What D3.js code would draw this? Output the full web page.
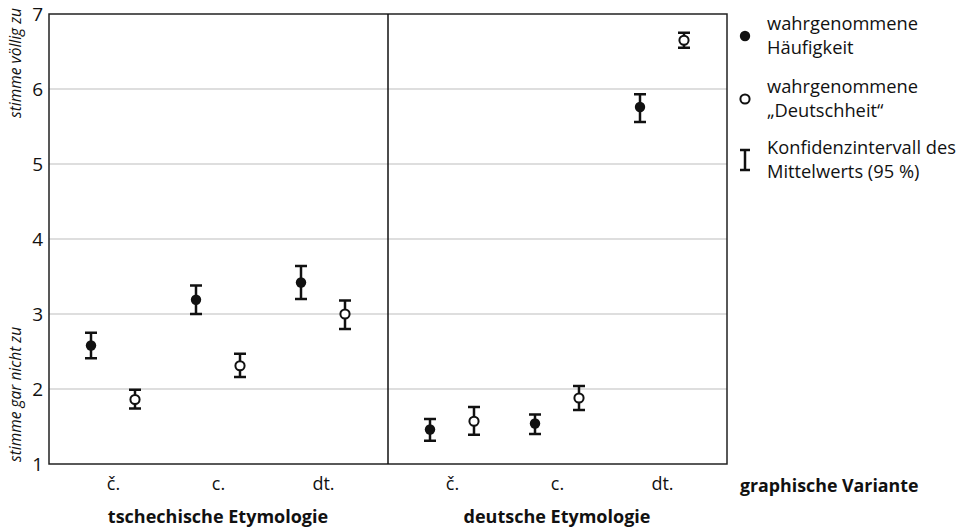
<!DOCTYPE html>
<html>
<head>
<meta charset="utf-8">
<script src="https://cdn.jsdelivr.net/npm/d3@7"></script>
<style>
  body { margin: 0; background: #fff; }
  text { font-family: "Open Sans", "Noto Sans", sans-serif; fill: #111; }
</style>
</head>
<body>
<div id="chart"></div>
<script>
// Gruppen und Varianten
const groups = ["tschechische Etymologie", "deutsche Etymologie"];
const variants = ["č.", "c.", "dt."];
const yTicks = [1, 2, 3, 4, 5, 6, 7];

// wahrgenommene Häufigkeit (gefüllt): Mittelwert, unten, oben
const freqMean = [[2.58, 3.19, 3.42], [1.46, 1.54, 5.76]];
const freqLow  = [[2.41, 3.00, 3.20], [1.31, 1.40, 5.56]];
const freqHigh = [[2.75, 3.38, 3.64], [1.60, 1.66, 5.93]];

// wahrgenommene „Deutschheit“ (offen)
const germMean = [[1.86, 2.31, 3.00], [1.57, 1.88, 6.65]];
const germLow  = [[1.74, 2.16, 2.80], [1.39, 1.72, 6.55]];
const germHigh = [[1.99, 2.47, 3.18], [1.76, 2.04, 6.75]];

const legendItems = [
    { type: "filled", lines: ["wahrgenommene", "Häufigkeit"] },
    { type: "open", lines: ["wahrgenommene", "„Deutschheit“"] },
    { type: "ci", lines: ["Konfidenzintervall des", "Mittelwerts (95 %)"] }
];

const W = 967, H = 527;
const margin = { top: 14, left: 49, right: 240, bottom: 63 };
const plotW = W - margin.left - margin.right;
const plotH = H - margin.top - margin.bottom;

const svg = d3.select("#chart").append("svg")
    .attr("width", W)
    .attr("height", H);

const g = svg.append("g")
    .attr("transform", `translate(${margin.left},${margin.top})`);

// Skalen
const y = d3.scaleLinear().domain([1, 7]).range([plotH, 0]);
const xGroup = d3.scaleBand().domain(groups).range([0, plotW]);
const xVar = d3.scalePoint().domain(variants).range([64, 274]);
const pairOffset = 22;

// Gitterlinien
g.selectAll(".grid")
    .data(yTicks.slice(1, -1))
    .enter()
    .append("line")
    .attr("class", "grid")
    .attr("x1", 0)
    .attr("x2", plotW)
    .attr("y1", d => y(d))
    .attr("y2", d => y(d))
    .attr("stroke", "#bdbdbd")
    .attr("stroke-width", 1.2);

// Rahmen
g.append("rect")
    .attr("x", 0)
    .attr("y", 0)
    .attr("width", plotW)
    .attr("height", plotH)
    .attr("fill", "none")
    .attr("stroke", "#222")
    .attr("stroke-width", 1.5);

// Trennlinie
g.append("line")
    .attr("x1", xGroup(groups[1]))
    .attr("x2", xGroup(groups[1]))
    .attr("y1", 0)
    .attr("y2", plotH)
    .attr("stroke", "#111")
    .attr("stroke-width", 1.5);

// y-Achse
g.append("g")
    .call(d3.axisLeft(y).tickValues(yTicks).tickSize(0).tickPadding(6).tickFormat(d3.format("d")))
    .call(a => a.select(".domain").remove())
    .selectAll("text")
    .style("font-size", "19px");

// y-Achsenbeschriftungen (kursiv)
g.append("text")
    .attr("transform", `translate(-28,-6) rotate(-90)`)
    .attr("text-anchor", "end")
    .style("font-style", "italic")
    .style("font-size", "15.5px")
    .text("stimme völlig zu");

g.append("text")
    .attr("transform", `translate(-28,${plotH - 2}) rotate(-90)`)
    .attr("text-anchor", "start")
    .style("font-style", "italic")
    .style("font-size", "15.5px")
    .text("stimme gar nicht zu");

// x-Achse pro Gruppe
groups.forEach((grp, gi) => {
    const gx = g.append("g")
        .attr("transform", `translate(${xGroup(grp)},${plotH})`);
    gx.call(d3.axisBottom(xVar).tickSize(0).tickPadding(13))
        .call(a => a.select(".domain").remove())
        .selectAll("text")
        .style("font-size", "18px");

    gx.append("text")
        .attr("x", xVar.range()[0] + (xVar.range()[1] - xVar.range()[0]) / 2)
        .attr("y", 59)
        .attr("text-anchor", "middle")
        .style("font-size", "18px")
        .style("font-weight", "bold")
        .text(grp);
});

g.append("text")
    .attr("x", plotW + 13)
    .attr("y", plotH + 28)
    .style("font-size", "17.8px")
    .style("font-weight", "bold")
    .text("graphische Variante");

// Datenpunkte zusammenstellen
const points = [];
groups.forEach((grp, gi) => {
    variants.forEach((v, vi) => {
        points.push({ grp, v, type: "filled", dx: -pairOffset,
            mean: freqMean[gi][vi], low: freqLow[gi][vi], high: freqHigh[gi][vi] });
        points.push({ grp, v, type: "open", dx: pairOffset,
            mean: germMean[gi][vi], low: germLow[gi][vi], high: germHigh[gi][vi] });
    });
});

const px = d => xGroup(d.grp) + xVar(d.v) + d.dx;
const capW = 6;

const marks = g.selectAll(".mark")
    .data(points)
    .enter()
    .append("g")
    .attr("class", "mark");

marks.append("line")
    .attr("x1", px).attr("x2", px)
    .attr("y1", d => y(d.low)).attr("y2", d => y(d.high))
    .attr("stroke", "#111").attr("stroke-width", 2.5);

marks.append("line")
    .attr("x1", d => px(d) - capW).attr("x2", d => px(d) + capW)
    .attr("y1", d => y(d.high)).attr("y2", d => y(d.high))
    .attr("stroke", "#111").attr("stroke-width", 2.5);

marks.append("line")
    .attr("x1", d => px(d) - capW).attr("x2", d => px(d) + capW)
    .attr("y1", d => y(d.low)).attr("y2", d => y(d.low))
    .attr("stroke", "#111").attr("stroke-width", 2.5);

marks.append("circle")
    .attr("cx", px)
    .attr("cy", d => y(d.mean))
    .attr("r", d => d.type === "filled" ? 5.2 : 4.6)
    .attr("fill", d => d.type === "filled" ? "#111" : "#fff")
    .attr("stroke", "#111")
    .attr("stroke-width", d => d.type === "filled" ? 0 : 2);

// Legende
const legend = svg.append("g")
    .attr("transform", `translate(745,0)`);

const legendY = [36, 99, 160];
legendItems.forEach((item, i) => {
    const cy = legendY[i];
    if (item.type === "filled") {
        legend.append("circle").attr("cx", 0).attr("cy", cy).attr("r", 5.2).attr("fill", "#111");
    } else if (item.type === "open") {
        legend.append("circle").attr("cx", 0).attr("cy", cy).attr("r", 4.6)
            .attr("fill", "#fff").attr("stroke", "#111").attr("stroke-width", 2);
    } else {
        legend.append("line").attr("x1", 0).attr("x2", 0).attr("y1", cy - 10).attr("y2", cy + 10)
            .attr("stroke", "#111").attr("stroke-width", 2.5);
        legend.append("line").attr("x1", -5).attr("x2", 5).attr("y1", cy - 10).attr("y2", cy - 10)
            .attr("stroke", "#111").attr("stroke-width", 2.5);
        legend.append("line").attr("x1", -5).attr("x2", 5).attr("y1", cy + 10).attr("y2", cy + 10)
            .attr("stroke", "#111").attr("stroke-width", 2.5);
    }
    const t = legend.append("text")
        .attr("x", 22)
        .attr("y", cy - 6)
        .style("font-size", "18.3px");
    item.lines.forEach((ln, li) => {
        t.append("tspan")
            .attr("x", 22)
            .attr("dy", li === 0 ? 0 : 24)
            .text(ln);
    });
});
</script>
</body>
</html>
